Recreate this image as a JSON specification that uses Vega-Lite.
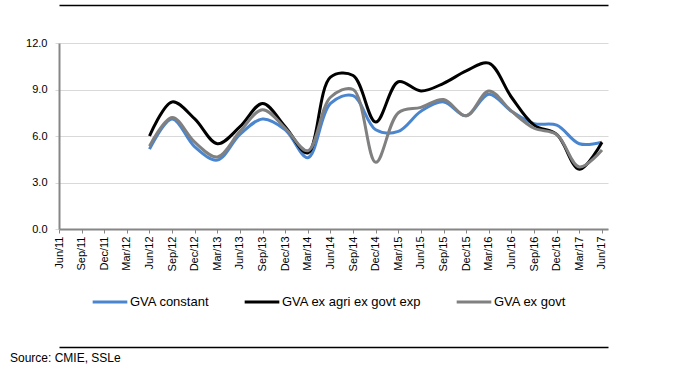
{
  "$schema": "https://vega.github.io/schema/vega-lite/v6.json",
  "autosize": {"type": "none"},
  "width": 549,
  "height": 186,
  "padding": {"left": 59, "top": 43, "right": 91, "bottom": 146},
  "background": "white",
  "config": {
    "font": "Liberation Sans",
    "view": {"stroke": null}
  },
  "title": {
    "text": "Source: CMIE, SSLe",
    "orient": "bottom",
    "anchor": "start",
    "frame": "group",
    "dx": -49,
    "offset": 6,
    "font": "Liberation Sans",
    "fontSize": 12,
    "fontWeight": "normal",
    "color": "#000000"
  },
  "data": {
    "values": [
      {"q": "Jun/12", "GVA constant": 5.15, "GVA ex agri ex govt exp": 6.0, "GVA ex govt": 5.35},
      {"q": "Sep/12", "GVA constant": 7.1, "GVA ex agri ex govt exp": 8.2, "GVA ex govt": 7.2},
      {"q": "Dec/12", "GVA constant": 5.3, "GVA ex agri ex govt exp": 7.1, "GVA ex govt": 5.6},
      {"q": "Mar/13", "GVA constant": 4.45, "GVA ex agri ex govt exp": 5.5, "GVA ex govt": 4.65},
      {"q": "Jun/13", "GVA constant": 6.1, "GVA ex agri ex govt exp": 6.6, "GVA ex govt": 6.3},
      {"q": "Sep/13", "GVA constant": 7.1, "GVA ex agri ex govt exp": 8.1, "GVA ex govt": 7.7},
      {"q": "Dec/13", "GVA constant": 6.4, "GVA ex agri ex govt exp": 6.6, "GVA ex govt": 6.5},
      {"q": "Mar/14", "GVA constant": 4.6, "GVA ex agri ex govt exp": 4.9, "GVA ex govt": 5.05},
      {"q": "Jun/14", "GVA constant": 8.1, "GVA ex agri ex govt exp": 9.8, "GVA ex govt": 8.5},
      {"q": "Sep/14", "GVA constant": 8.6, "GVA ex agri ex govt exp": 9.9, "GVA ex govt": 9.0},
      {"q": "Dec/14", "GVA constant": 6.4, "GVA ex agri ex govt exp": 6.9, "GVA ex govt": 4.3},
      {"q": "Mar/15", "GVA constant": 6.3, "GVA ex agri ex govt exp": 9.5, "GVA ex govt": 7.5},
      {"q": "Jun/15", "GVA constant": 7.6, "GVA ex agri ex govt exp": 8.9, "GVA ex govt": 7.85},
      {"q": "Sep/15", "GVA constant": 8.2, "GVA ex agri ex govt exp": 9.4, "GVA ex govt": 8.35},
      {"q": "Dec/15", "GVA constant": 7.3, "GVA ex agri ex govt exp": 10.2, "GVA ex govt": 7.3},
      {"q": "Mar/16", "GVA constant": 8.7, "GVA ex agri ex govt exp": 10.7, "GVA ex govt": 8.9},
      {"q": "Jun/16", "GVA constant": 7.6, "GVA ex agri ex govt exp": 8.5, "GVA ex govt": 7.6},
      {"q": "Sep/16", "GVA constant": 6.8, "GVA ex agri ex govt exp": 6.7, "GVA ex govt": 6.5},
      {"q": "Dec/16", "GVA constant": 6.7, "GVA ex agri ex govt exp": 6.1, "GVA ex govt": 6.1},
      {"q": "Mar/17", "GVA constant": 5.5, "GVA ex agri ex govt exp": 3.85, "GVA ex govt": 4.0},
      {"q": "Jun/17", "GVA constant": 5.6, "GVA ex agri ex govt exp": 5.6, "GVA ex govt": 5.1}
    ]
  },
  "transform": [
    {"fold": ["GVA constant", "GVA ex agri ex govt exp", "GVA ex govt"], "as": ["series", "value"]}
  ],
  "resolve": {"axis": {"x": "independent"}},
  "layer": [
    {
      "mark": {"type": "line", "interpolate": "catmull-rom", "strokeWidth": 3},
      "encoding": {
        "x": {
          "field": "q",
          "type": "ordinal",
          "sort": null,
          "scale": {
            "type": "point",
            "domain": ["Jun/11","Sep/11","Dec/11","Mar/12","Jun/12","Sep/12","Dec/12","Mar/13","Jun/13","Sep/13","Dec/13","Mar/14","Jun/14","Sep/14","Dec/14","Mar/15","Jun/15","Sep/15","Dec/15","Mar/16","Jun/16","Sep/16","Dec/16","Mar/17","Jun/17"],
            "padding": 0.133,
            "align": 0
          },
          "axis": {
            "orient": "bottom",
            "title": null,
            "labelAngle": 270,
            "labelAlign": "right",
            "labelBaseline": "middle",
            "labelFont": "Liberation Sans",
            "labelFontSize": 11,
            "labelColor": "#000000",
            "labelPadding": 3,
            "tickSize": 4,
            "tickColor": "#868686",
            "tickWidth": 1,
            "domainColor": "#868686",
            "domainWidth": 2,
            "grid": false
          }
        },
        "y": {
          "field": "value",
          "type": "quantitative",
          "scale": {"domain": [0, 12], "nice": false, "zero": true},
          "axis": {
            "title": null,
            "values": [0, 3, 6, 9, 12],
            "format": ".1f",
            "labelFont": "Liberation Sans",
            "labelFontSize": 11,
            "labelColor": "#000000",
            "labelPadding": 8,
            "tickSize": 4,
            "tickColor": "#d9d9d9",
            "domainColor": "#868686",
            "domainWidth": 2,
            "grid": true,
            "gridColor": "#d9d9d9",
            "gridWidth": 1
          }
        },
        "color": {
          "field": "series",
          "type": "nominal",
          "scale": {
            "domain": ["GVA constant", "GVA ex agri ex govt exp", "GVA ex govt"],
            "range": ["#4a86cf", "#000000", "#808080"]
          },
          "legend": {
            "title": null,
            "orient": "none",
            "legendX": 32,
            "legendY": 240,
            "direction": "horizontal",
            "symbolType": "stroke",
            "symbolSize": 1200,
            "symbolStrokeWidth": 3,
            "labelFont": "Liberation Sans",
            "labelFontSize": 13,
            "labelColor": "#000000",
            "labelOffset": 1,
            "columnPadding": 28
          }
        }
      }
    },
    {
      "mark": {"type": "rule", "opacity": 0},
      "encoding": {
        "x": {
          "field": "q",
          "type": "ordinal",
          "sort": null,
          "axis": {
            "orient": "top",
            "offset": 38,
            "title": null,
            "labels": false,
            "ticks": false,
            "grid": false,
            "domainColor": "#000000",
            "domainWidth": 1.5
          }
        }
      }
    },
    {
      "mark": {"type": "rule", "opacity": 0},
      "encoding": {
        "x": {
          "field": "q",
          "type": "ordinal",
          "sort": null,
          "axis": {
            "orient": "bottom",
            "offset": 118,
            "title": null,
            "labels": false,
            "ticks": false,
            "grid": false,
            "domainColor": "#000000",
            "domainWidth": 1.5
          }
        }
      }
    }
  ]
}
